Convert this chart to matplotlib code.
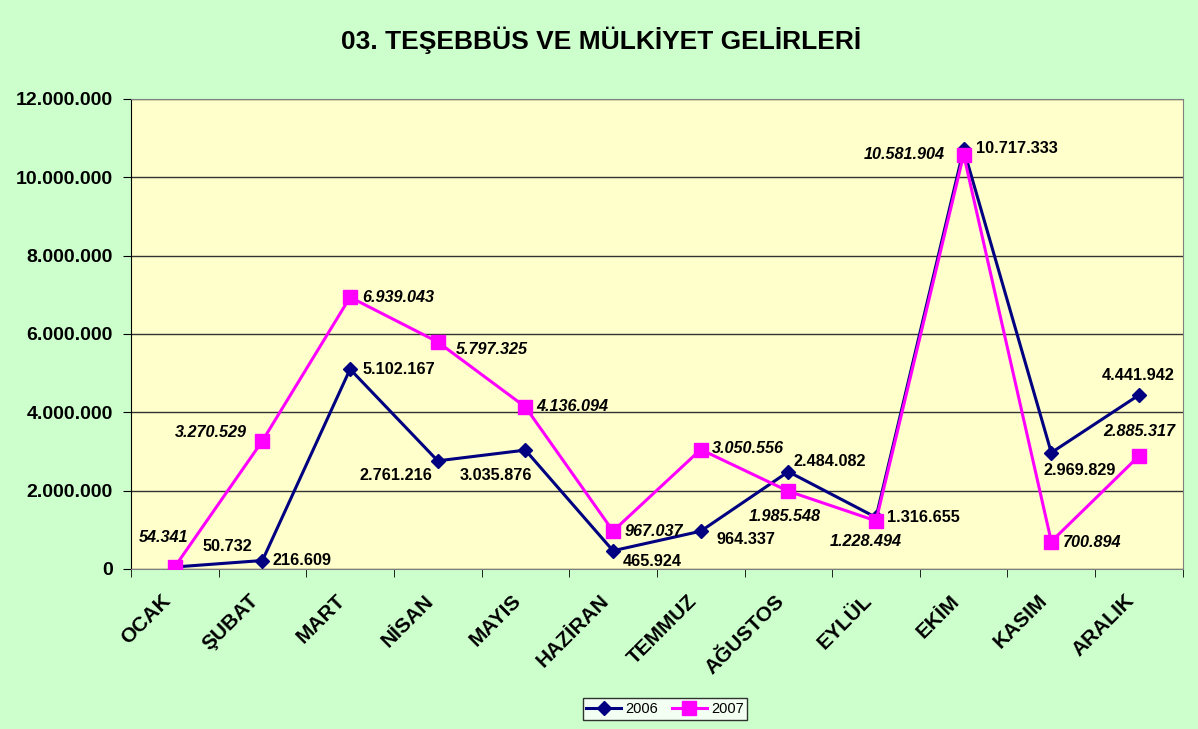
# -*- coding: utf-8 -*-
# 03. Teşebbüs ve mülkiyet gelirleri - aylık karşılaştırma 2006 / 2007
import matplotlib.pyplot as plt
from matplotlib.ticker import FuncFormatter, FixedLocator

aylar = ['OCAK', 'ŞUBAT', 'MART', 'NİSAN', 'MAYIS', 'HAZİRAN',
         'TEMMUZ', 'AĞUSTOS', 'EYLÜL', 'EKİM', 'KASIM', 'ARALIK']
gelir_2006 = [50732, 216609, 5102167, 2761216, 3035876, 465924,
              964337, 2484082, 1316655, 10717333, 2969829, 4441942]
gelir_2007 = [54341, 3270529, 6939043, 5797325, 4136094, 967037,
              3050556, 1985548, 1228494, 10581904, 700894, 2885317]

# etiket kaydirmalari (piksel) ve hizalama
ofset_2006 = [(53, 20, 'center'), (10, 0, 'left'), (12, 0, 'left'), (-42, -15, 'center'),
              (-29, -25, 'center'), (10, -11, 'left'), (16, -8, 'left'), (5, 10, 'left'),
              (11, 0, 'left'), (12, 1, 'left'), (-8, -18, 'left'), (-1, 20, 'center')]
ofset_2007 = [(-11, 29, 'center'), (-16, 8, 'right'), (12, 0, 'left'), (18, -8, 'left'),
              (11, 0, 'left'), (12, 0, 'left'), (11, 1, 'left'), (-4, -25, 'center'),
              (-10, -21, 'center'), (-19, 0, 'right'), (12, -1, 'left'), (0, 24, 'center')]

fam = 'Liberation Sans'
plt.rcParams['font.family'] = fam


def tr_format(v, pos=None):
    return f'{int(v):,}'.replace(',', '.')


fig = plt.figure(figsize=(11.98, 7.29), dpi=100, facecolor='#CCFFCC')
ax = fig.add_axes([0.1093, 0.2195, 0.878, 0.6447], facecolor='#FFFFCC')

x = list(range(len(aylar)))
ax.plot(x, gelir_2006, color='#000080', lw=2.2, marker='D', ms=7, label='2006', zorder=3)
ax.plot(x, gelir_2007, color='#FF00FF', lw=2.2, marker='s', ms=10, label='2007', zorder=3)

for i, v in enumerate(gelir_2006):
    dx, dy, ha = ofset_2006[i]
    ax.annotate(tr_format(v), (i, v), xytext=(dx, dy), textcoords='offset pixels',
                ha=ha, va='center', fontsize=11.7, fontweight='bold', zorder=4)
for i, v in enumerate(gelir_2007):
    dx, dy, ha = ofset_2007[i]
    ax.annotate(tr_format(v), (i, v), xytext=(dx, dy), textcoords='offset pixels',
                ha=ha, va='center', fontsize=11.7, fontweight='bold', fontstyle='italic', zorder=4)

ax.set_xlim(-0.5, len(aylar) - 0.5)
ax.set_ylim(0, 12000000)
ax.set_yticks(range(0, 12000001, 2000000))
ax.yaxis.set_major_formatter(FuncFormatter(tr_format))
ax.yaxis.grid(True, color='#333333', lw=1)
ax.set_axisbelow(True)

# ay isimleri biraz sola kaydirilmis konumlarda (cizgisiz major tick)
ax.set_xticks([i - 0.16 for i in x])
ax.set_xticklabels(aylar, rotation=45, ha='right', rotation_mode='anchor',
                   fontsize=15, fontweight='bold')
ax.xaxis.set_minor_locator(FixedLocator([i - 0.5 for i in range(len(aylar) + 1)]))
ax.tick_params(axis='x', which='major', length=0, pad=16)
ax.tick_params(axis='x', which='minor', length=6, color='black')
ax.tick_params(axis='y', length=6, color='black', labelsize=14, pad=7)
for lbl in ax.get_yticklabels():
    lbl.set_fontweight('bold')

for s in ['top', 'right']:
    ax.spines[s].set_color('#808080')
ax.spines['left'].set_color('black')
ax.spines['bottom'].set_color('#808080')

fig.text(0.502, 1 - 40 / 729, '03. TEŞEBBÜS VE MÜLKİYET GELİRLERİ', ha='center', va='center',
         fontsize=19, fontweight='bold')

leg = fig.legend(loc='center', bbox_to_anchor=(665 / 1198, 1 - 709 / 729), ncol=2,
                 fontsize=10.5, frameon=True, fancybox=False, edgecolor='black',
                 handlelength=2.4, columnspacing=0.9, borderpad=0.25, handletextpad=0.3)
leg.get_frame().set_facecolor('white')
leg.get_frame().set_linewidth(1)

fig.savefig('out.png', dpi=100, facecolor=fig.get_facecolor())
